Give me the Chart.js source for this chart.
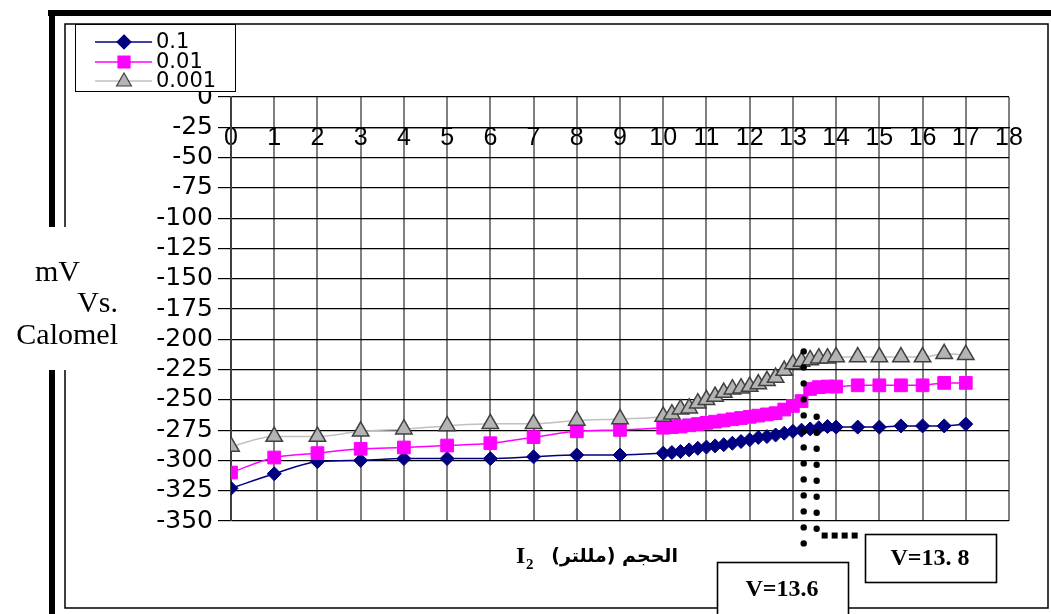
<!DOCTYPE html>
<html lang="ar">
<head>
  <meta charset="UTF-8">
  <title>Potential vs volume I2</title>
  <script src="https://cdn.jsdelivr.net/npm/chart.js"></script>
  <style>
    *{box-sizing:border-box}
    body{margin:0;background:#fff}
    #wrap{width:1051px;height:614px}
  </style>
</head>
<body>
<div id="wrap"><canvas id="potChart" width="1051" height="614"></canvas></div>
<script>
/* ========== data ========== */
const volumes = [0,1,2,3,4,5,6,7,8,9,
  10,10.2,10.4,10.6,10.8,11,11.2,11.4,11.6,11.8,12,12.2,12.4,12.6,12.8,13,13.2,13.4,13.6,13.8,14,
  14.5,15,15.5,16,16.5,17];

const conc01 = [-323,-311,-301,-300,-298.5,-298.5,-298.5,-297,-295.5,-295.5,
  -294,-293.5,-292.7,-291.3,-290,-289,-288,-287,-285.8,-284.4,-283,-281,-280.3,-279,-277.5,-276,-275,-274,-273,-272,-272.5,
  -272.5,-272.5,-271.5,-271.5,-271.5,-270];

const conc001 = [-310,-297.6,-294,-290.4,-289.3,-287.7,-285.8,-280.8,-276,-274.8,
  -273,-272.5,-272,-271,-270,-269,-268,-267,-266,-265,-264,-263,-262,-261,-258,-255,-251,-241,-239.5,-239,-239,
  -238,-238,-238,-238,-236,-236];

const conc0001 = [-288.5,-280.3,-280.3,-276,-274.2,-271.5,-269.8,-269.8,-267,-265.7,
  -263.8,-261.8,-257.7,-256.9,-252.8,-250,-247.3,-244,-241.2,-240.4,-239,-237,-234.3,-231.6,-225.8,-220.5,-218.4,-217,-215.6,-215.6,-214.7,
  -214.7,-214.7,-214.7,-214.7,-212,-212.8];

const seriesLabels = ['0.1','0.01','0.001'];
const yTitleLines = ['mV','Vs.','Calomel'];
const xTitleArabic = 'الحجم (مللتر)';
const endLabels = ['V=13.6','V=13. 8'];

// end-point guide lines (x in mL, y in mV)
const dropA = {x:13.25, from:-210, to:-378};
const dropB = {x:13.55, from:-264, to:-362};
const runB  = {y:-362, from:13.55, to:14.55};

function pts(ys){ return ys.map((y,i)=>({x:volumes[i], y})); }

const styles = [
  {fill:'#000080', border:'#000080', point:'rectRot', r:7, line:'#000080'},
  {fill:'#ff00ff', border:'#ff00ff', point:'rect', r:9, line:'#ff00ff'},
  {fill:'#b4b4b4', border:'#404040', point:'triangle', r:9.5, line:'#c0c0c0'}
];
const seriesData = [conc01, conc001, conc0001];

const datasets = seriesData.map((d,i)=>({
  label: seriesLabels[i],
  data: pts(d),
  borderColor: styles[i].line,
  borderWidth: 1.5,
  backgroundColor: styles[i].fill,
  pointStyle: styles[i].point,
  pointRadius: styles[i].r,
  pointBackgroundColor: styles[i].fill,
  pointBorderColor: styles[i].border,
  pointBorderWidth: i===2 ? 1.5 : 1,
  cubicInterpolationMode: 'monotone',
  order: 3 - i
}));

/* ========== helpers ========== */
function marker(ctx, st, x, y){
  ctx.save();
  ctx.fillStyle = st.fill; ctx.strokeStyle = st.border; ctx.lineWidth = 1.2;
  ctx.beginPath();
  if(st.point === 'rectRot'){
    ctx.moveTo(x, y-7); ctx.lineTo(x+7, y); ctx.lineTo(x, y+7); ctx.lineTo(x-7, y); ctx.closePath();
  }else if(st.point === 'rect'){
    ctx.rect(x-6, y-6, 12, 12);
  }else{
    ctx.moveTo(x, y-8); ctx.lineTo(x+7.4, y+5); ctx.lineTo(x-7.4, y+5); ctx.closePath();
  }
  ctx.fill(); ctx.stroke();
  ctx.restore();
}

const framePlugin = {
  id:'frame',
  beforeDraw(chart){
    const ctx = chart.ctx;
    ctx.save();
    ctx.fillStyle = '#fff';
    ctx.fillRect(0,0,chart.width,chart.height);
    ctx.fillStyle = '#000';
    // thick outer frame
    ctx.fillRect(48,10,1003,6);
    ctx.fillRect(49,10,6,217);
    ctx.fillRect(49,370,6,244);
    // thin inner frame
    ctx.strokeStyle = '#000'; ctx.lineWidth = 1.5;
    ctx.beginPath();
    ctx.moveTo(65,227); ctx.lineTo(65,24); ctx.lineTo(1048,24); ctx.lineTo(1048,608); ctx.lineTo(65,608); ctx.lineTo(65,370);
    ctx.stroke();
    ctx.restore();
  },
  afterDraw(chart){
    const ctx = chart.ctx;
    const xs = chart.scales.x, ys = chart.scales.y;
    ctx.save();

    // legend
    ctx.fillStyle = '#fff'; ctx.fillRect(75,24,160,67);
    ctx.strokeStyle = '#000'; ctx.lineWidth = 1;
    ctx.strokeRect(75.5,24.5,160,67);
    const rows = [42,62,81];
    ctx.font = '21px "DejaVu Sans"';
    ctx.textBaseline = 'middle'; ctx.textAlign = 'left';
    seriesLabels.forEach((lab,i)=>{
      ctx.strokeStyle = styles[i].line; ctx.lineWidth = 1.5;
      ctx.beginPath(); ctx.moveTo(95,rows[i]); ctx.lineTo(152,rows[i]); ctx.stroke();
      marker(ctx, styles[i], 124, rows[i]);
      ctx.fillStyle = '#000';
      ctx.fillText(lab, 156, rows[i]+1);
    });

    // y title
    ctx.font = '30px "Liberation Serif"';
    ctx.fillStyle = '#000';
    ctx.textBaseline = 'alphabetic';
    ctx.textAlign = 'left';  ctx.fillText(yTitleLines[0], 35, 281);
    ctx.textAlign = 'right'; ctx.fillText(yTitleLines[1], 118, 312);
    ctx.fillText(yTitleLines[2], 118, 344);

    // x title
    ctx.font = 'bold 24px "Liberation Serif"';
    ctx.textAlign = 'left';
    ctx.fillText('I', 516, 563);
    ctx.font = 'bold 15px "Liberation Serif"';
    ctx.fillText('2', 526, 569);
    ctx.font = 'bold 19px "DejaVu Sans"';
    ctx.direction = 'rtl'; ctx.textAlign = 'right';
    ctx.fillText(xTitleArabic, 678, 562);
    ctx.direction = 'ltr';

    // dotted guides
    ctx.fillStyle = '#000';
    [dropA, dropB].forEach(g=>{
      const px = xs.getPixelForValue(g.x);
      const top = ys.getPixelForValue(g.from), bot = ys.getPixelForValue(g.to);
      for(let y = top; y <= bot; y += 16){
        ctx.beginPath(); ctx.arc(px, y, 3.2, 0, Math.PI*2); ctx.fill();
      }
    });
    const hy = ys.getPixelForValue(runB.y);
    const hx0 = xs.getPixelForValue(runB.from) + 8, hx1 = xs.getPixelForValue(runB.to);
    for(let x = hx0; x <= hx1; x += 10){
      ctx.fillRect(x-3, hy-3, 6, 6);
    }

    // end-point boxes
    ctx.font = 'bold 24px "Liberation Serif"';
    ctx.textAlign = 'center'; ctx.textBaseline = 'middle';
    const boxes = [[717,562,131,60,782,590],[865,534,131,48,930,559]];
    boxes.forEach((b,i)=>{
      ctx.fillStyle = '#fff'; ctx.fillRect(b[0],b[1],b[2],b[3]);
      ctx.strokeStyle = '#000'; ctx.lineWidth = 1.6;
      ctx.strokeRect(b[0]+0.5,b[1]+0.5,b[2],b[3]);
      ctx.fillStyle = '#000';
      ctx.fillText(endLabels[i], b[4], b[5]);
    });
    ctx.restore();
  }
};

/* ========== chart ========== */
new Chart(document.getElementById('potChart'), {
  type:'line',
  data:{datasets},
  options:{
    responsive:false,
    animation:false,
    layout:{padding:{left:0, top:97, right:42, bottom:93}},
    plugins:{legend:{display:false}, tooltip:{enabled:false}},
    scales:{
      x:{
        type:'linear',
        position:{y:-25},
        min:0, max:18,
        ticks:{stepSize:1, color:'#000', font:{family:'Liberation Sans', size:25}, padding:-4, maxRotation:0, autoSkip:false},
        grid:{color:'#808080', lineWidth:2, drawTicks:false},
        border:{display:true, color:'#000', width:1.2}
      },
      y:{
        min:-350, max:0,
        ticks:{stepSize:25, color:'#000', font:{family:'DejaVu Sans', size:25}, padding:5, autoSkip:false},
        grid:{color:'#000', lineWidth:1.2, tickLength:13, drawTicks:true},
        border:{display:true, color:'#404040', width:2},
        afterFit(scale){ scale.width = 231; }
      }
    }
  },
  plugins:[framePlugin]
});
</script>
</body>
</html>
